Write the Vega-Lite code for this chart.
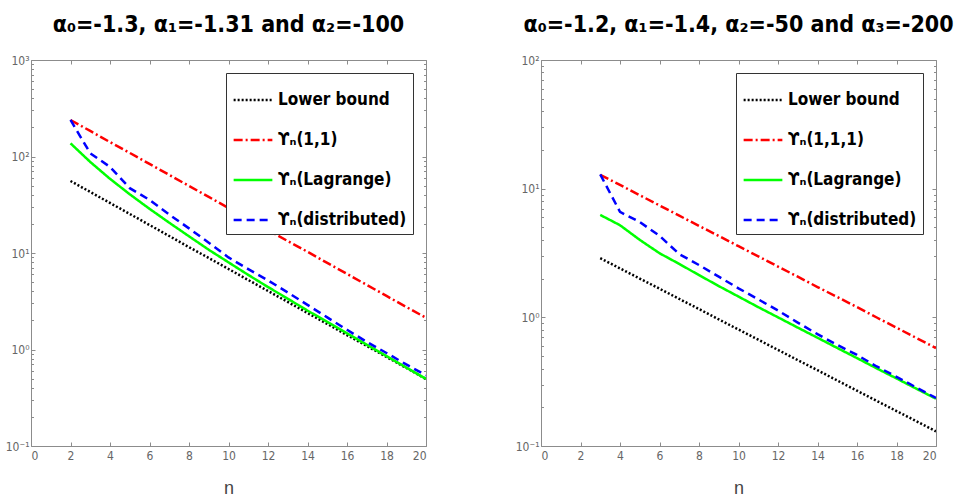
{
  "$schema": "https://vega.github.io/schema/vega-lite/v6.json",
  "background": "white",
  "padding": {"left": 3, "top": 14, "right": 5, "bottom": 0},
  "bounds": "flush",
  "spacing": 115,
  "datasets": {
    "left": [
      {"s": "Lower bound", "n": 2, "v": 55.7}, {"s": "Lower bound", "n": 3, "v": 42.9}, {"s": "Lower bound", "n": 4, "v": 33.0},
      {"s": "Lower bound", "n": 5, "v": 25.4}, {"s": "Lower bound", "n": 6, "v": 19.5}, {"s": "Lower bound", "n": 7, "v": 15.0},
      {"s": "Lower bound", "n": 8, "v": 11.5}, {"s": "Lower bound", "n": 9, "v": 8.88}, {"s": "Lower bound", "n": 10, "v": 6.83},
      {"s": "Lower bound", "n": 11, "v": 5.25}, {"s": "Lower bound", "n": 12, "v": 4.04}, {"s": "Lower bound", "n": 13, "v": 3.11},
      {"s": "Lower bound", "n": 14, "v": 2.39}, {"s": "Lower bound", "n": 15, "v": 1.84}, {"s": "Lower bound", "n": 16, "v": 1.41},
      {"s": "Lower bound", "n": 17, "v": 1.09}, {"s": "Lower bound", "n": 18, "v": 0.837}, {"s": "Lower bound", "n": 19, "v": 0.644},
      {"s": "Lower bound", "n": 20, "v": 0.495},
      {"s": "ϒₙ(1,1)", "n": 2, "v": 239}, {"s": "ϒₙ(1,1)", "n": 3, "v": 184}, {"s": "ϒₙ(1,1)", "n": 4, "v": 141},
      {"s": "ϒₙ(1,1)", "n": 5, "v": 109}, {"s": "ϒₙ(1,1)", "n": 6, "v": 83.7}, {"s": "ϒₙ(1,1)", "n": 7, "v": 64.4},
      {"s": "ϒₙ(1,1)", "n": 8, "v": 49.5}, {"s": "ϒₙ(1,1)", "n": 9, "v": 38.1}, {"s": "ϒₙ(1,1)", "n": 10, "v": 29.3},
      {"s": "ϒₙ(1,1)", "n": 11, "v": 22.5}, {"s": "ϒₙ(1,1)", "n": 12, "v": 17.3}, {"s": "ϒₙ(1,1)", "n": 13, "v": 13.3},
      {"s": "ϒₙ(1,1)", "n": 14, "v": 10.3}, {"s": "ϒₙ(1,1)", "n": 15, "v": 7.89}, {"s": "ϒₙ(1,1)", "n": 16, "v": 6.07},
      {"s": "ϒₙ(1,1)", "n": 17, "v": 4.67}, {"s": "ϒₙ(1,1)", "n": 18, "v": 3.59}, {"s": "ϒₙ(1,1)", "n": 19, "v": 2.76},
      {"s": "ϒₙ(1,1)", "n": 20, "v": 2.13},
      {"s": "ϒₙ(Lagrange)", "n": 2, "v": 137}, {"s": "ϒₙ(Lagrange)", "n": 3, "v": 87.8}, {"s": "ϒₙ(Lagrange)", "n": 4, "v": 58.7},
      {"s": "ϒₙ(Lagrange)", "n": 5, "v": 40.6}, {"s": "ϒₙ(Lagrange)", "n": 6, "v": 28.7}, {"s": "ϒₙ(Lagrange)", "n": 7, "v": 20.6},
      {"s": "ϒₙ(Lagrange)", "n": 8, "v": 14.9}, {"s": "ϒₙ(Lagrange)", "n": 9, "v": 10.8}, {"s": "ϒₙ(Lagrange)", "n": 10, "v": 8.0},
      {"s": "ϒₙ(Lagrange)", "n": 11, "v": 5.93}, {"s": "ϒₙ(Lagrange)", "n": 12, "v": 4.44}, {"s": "ϒₙ(Lagrange)", "n": 13, "v": 3.36},
      {"s": "ϒₙ(Lagrange)", "n": 14, "v": 2.53}, {"s": "ϒₙ(Lagrange)", "n": 15, "v": 1.93}, {"s": "ϒₙ(Lagrange)", "n": 16, "v": 1.47},
      {"s": "ϒₙ(Lagrange)", "n": 17, "v": 1.12}, {"s": "ϒₙ(Lagrange)", "n": 18, "v": 0.854}, {"s": "ϒₙ(Lagrange)", "n": 19, "v": 0.65},
      {"s": "ϒₙ(Lagrange)", "n": 20, "v": 0.495},
      {"s": "ϒₙ(distributed)", "n": 2, "v": 239}, {"s": "ϒₙ(distributed)", "n": 3, "v": 108}, {"s": "ϒₙ(distributed)", "n": 4, "v": 78},
      {"s": "ϒₙ(distributed)", "n": 5, "v": 47}, {"s": "ϒₙ(distributed)", "n": 6, "v": 35.5}, {"s": "ϒₙ(distributed)", "n": 7, "v": 25},
      {"s": "ϒₙ(distributed)", "n": 8, "v": 18}, {"s": "ϒₙ(distributed)", "n": 9, "v": 12.8}, {"s": "ϒₙ(distributed)", "n": 10, "v": 9.0},
      {"s": "ϒₙ(distributed)", "n": 11, "v": 6.8}, {"s": "ϒₙ(distributed)", "n": 12, "v": 5.2}, {"s": "ϒₙ(distributed)", "n": 13, "v": 3.9},
      {"s": "ϒₙ(distributed)", "n": 14, "v": 2.9}, {"s": "ϒₙ(distributed)", "n": 15, "v": 2.15}, {"s": "ϒₙ(distributed)", "n": 16, "v": 1.6},
      {"s": "ϒₙ(distributed)", "n": 17, "v": 1.2}, {"s": "ϒₙ(distributed)", "n": 18, "v": 0.92}, {"s": "ϒₙ(distributed)", "n": 19, "v": 0.7},
      {"s": "ϒₙ(distributed)", "n": 20, "v": 0.54}
    ],
    "right": [
      {"s": "Lower bound", "n": 3, "v": 2.88}, {"s": "Lower bound", "n": 4, "v": 2.4}, {"s": "Lower bound", "n": 5, "v": 2.0},
      {"s": "Lower bound", "n": 6, "v": 1.67}, {"s": "Lower bound", "n": 7, "v": 1.39}, {"s": "Lower bound", "n": 8, "v": 1.16},
      {"s": "Lower bound", "n": 9, "v": 0.964}, {"s": "Lower bound", "n": 10, "v": 0.804}, {"s": "Lower bound", "n": 11, "v": 0.67},
      {"s": "Lower bound", "n": 12, "v": 0.558}, {"s": "Lower bound", "n": 13, "v": 0.465}, {"s": "Lower bound", "n": 14, "v": 0.388},
      {"s": "Lower bound", "n": 15, "v": 0.323}, {"s": "Lower bound", "n": 16, "v": 0.269}, {"s": "Lower bound", "n": 17, "v": 0.224},
      {"s": "Lower bound", "n": 18, "v": 0.187}, {"s": "Lower bound", "n": 19, "v": 0.156}, {"s": "Lower bound", "n": 20, "v": 0.13},
      {"s": "ϒₙ(1,1,1)", "n": 3, "v": 12.8}, {"s": "ϒₙ(1,1,1)", "n": 4, "v": 10.7}, {"s": "ϒₙ(1,1,1)", "n": 5, "v": 8.89},
      {"s": "ϒₙ(1,1,1)", "n": 6, "v": 7.41}, {"s": "ϒₙ(1,1,1)", "n": 7, "v": 6.17}, {"s": "ϒₙ(1,1,1)", "n": 8, "v": 5.14},
      {"s": "ϒₙ(1,1,1)", "n": 9, "v": 4.29}, {"s": "ϒₙ(1,1,1)", "n": 10, "v": 3.57}, {"s": "ϒₙ(1,1,1)", "n": 11, "v": 2.98},
      {"s": "ϒₙ(1,1,1)", "n": 12, "v": 2.48}, {"s": "ϒₙ(1,1,1)", "n": 13, "v": 2.07}, {"s": "ϒₙ(1,1,1)", "n": 14, "v": 1.72},
      {"s": "ϒₙ(1,1,1)", "n": 15, "v": 1.44}, {"s": "ϒₙ(1,1,1)", "n": 16, "v": 1.2}, {"s": "ϒₙ(1,1,1)", "n": 17, "v": 0.997},
      {"s": "ϒₙ(1,1,1)", "n": 18, "v": 0.831}, {"s": "ϒₙ(1,1,1)", "n": 19, "v": 0.692}, {"s": "ϒₙ(1,1,1)", "n": 20, "v": 0.577},
      {"s": "ϒₙ(Lagrange)", "n": 3, "v": 6.25}, {"s": "ϒₙ(Lagrange)", "n": 4, "v": 5.2}, {"s": "ϒₙ(Lagrange)", "n": 5, "v": 4.0},
      {"s": "ϒₙ(Lagrange)", "n": 6, "v": 3.15}, {"s": "ϒₙ(Lagrange)", "n": 7, "v": 2.6}, {"s": "ϒₙ(Lagrange)", "n": 8, "v": 2.13},
      {"s": "ϒₙ(Lagrange)", "n": 9, "v": 1.75}, {"s": "ϒₙ(Lagrange)", "n": 10, "v": 1.45}, {"s": "ϒₙ(Lagrange)", "n": 11, "v": 1.2},
      {"s": "ϒₙ(Lagrange)", "n": 12, "v": 1.0}, {"s": "ϒₙ(Lagrange)", "n": 13, "v": 0.832}, {"s": "ϒₙ(Lagrange)", "n": 14, "v": 0.694},
      {"s": "ϒₙ(Lagrange)", "n": 15, "v": 0.578}, {"s": "ϒₙ(Lagrange)", "n": 16, "v": 0.482}, {"s": "ϒₙ(Lagrange)", "n": 17, "v": 0.401},
      {"s": "ϒₙ(Lagrange)", "n": 18, "v": 0.335}, {"s": "ϒₙ(Lagrange)", "n": 19, "v": 0.279}, {"s": "ϒₙ(Lagrange)", "n": 20, "v": 0.233},
      {"s": "ϒₙ(distributed)", "n": 3, "v": 12.9}, {"s": "ϒₙ(distributed)", "n": 4, "v": 6.6}, {"s": "ϒₙ(distributed)", "n": 5, "v": 5.5},
      {"s": "ϒₙ(distributed)", "n": 6, "v": 4.3}, {"s": "ϒₙ(distributed)", "n": 7, "v": 3.1}, {"s": "ϒₙ(distributed)", "n": 8, "v": 2.55},
      {"s": "ϒₙ(distributed)", "n": 9, "v": 2.07}, {"s": "ϒₙ(distributed)", "n": 10, "v": 1.68}, {"s": "ϒₙ(distributed)", "n": 11, "v": 1.38},
      {"s": "ϒₙ(distributed)", "n": 12, "v": 1.13}, {"s": "ϒₙ(distributed)", "n": 13, "v": 0.91}, {"s": "ϒₙ(distributed)", "n": 14, "v": 0.74},
      {"s": "ϒₙ(distributed)", "n": 15, "v": 0.61}, {"s": "ϒₙ(distributed)", "n": 16, "v": 0.51}, {"s": "ϒₙ(distributed)", "n": 17, "v": 0.415},
      {"s": "ϒₙ(distributed)", "n": 18, "v": 0.345}, {"s": "ϒₙ(distributed)", "n": 19, "v": 0.285}, {"s": "ϒₙ(distributed)", "n": 20, "v": 0.236}
    ]
  },
  "config": {
    "font": "Liberation Sans",
    "view": {"stroke": null},
    "axis": {
      "grid": false,
      "domainColor": "#8c8c8c",
      "tickColor": "#8c8c8c",
      "labelColor": "#666666",
      "labelFont": "DejaVu Sans Condensed, Liberation Sans, sans-serif",
      "labelFontSize": 12,
      "titleColor": "#444444",
      "titleFont": "Liberation Sans, sans-serif"
    },
    "title": {
      "font": "DejaVu Sans Condensed, Liberation Sans, sans-serif",
      "fontWeight": "bold",
      "fontSize": 23,
      "color": "#000000"
    },
    "legend": {
      "orient": "top-right",
      "offset": 13,
      "padding": 6,
      "strokeColor": "#333333",
      "fillColor": "#ffffff",
      "labelFont": "DejaVu Sans Condensed, Liberation Sans, sans-serif",
      "labelFontWeight": "bold",
      "labelFontSize": 17,
      "labelColor": "#000000",
      "labelLimit": 300,
      "labelOffset": 4,
      "symbolType": "stroke",
      "symbolSize": 1500,
      "symbolStrokeWidth": 2.5,
      "rowPadding": 11
    }
  },
  "resolve": {"scale": {"color": "independent", "strokeDash": "independent"}},
  "hconcat": [
    {
      "width": 395,
      "height": 386,
      "title": {"text": "α₀=-1.3, α₁=-1.31 and α₂=-100", "frame": "group", "anchor": "middle", "offset": 17},
      "data": {"name": "left"},
      "layer": [
        {
          "mark": {"type": "line", "strokeWidth": 2.5, "clip": true},
          "encoding": {
            "x": {
              "field": "n", "type": "quantitative",
              "scale": {"domain": [0, 20], "nice": false},
              "axis": {"values": [0, 2, 4, 6, 8, 10, 12, 14, 16, 18, 20], "tickSize": -4, "labelPadding": 8, "title": "n", "titleFontSize": 18, "titleFontWeight": "normal", "titlePadding": 18}
            },
            "y": {
              "field": "v", "type": "quantitative",
              "scale": {"type": "log", "domain": [0.1, 1000], "nice": false},
              "axis": {
                "values": [0.1, 0.2, 0.3, 0.4, 0.5, 0.6, 0.7, 0.8, 0.9, 1, 2, 3, 4, 5, 6, 7, 8, 9, 10, 20, 30, 40, 50, 60, 70, 80, 90, 100, 200, 300, 400, 500, 600, 700, 800, 900, 1000],
                "labelExpr": "datum.value == 0.1 ? '10⁻¹' : datum.value == 1 ? '10⁰' : datum.value == 10 ? '10¹' : datum.value == 100 ? '10²' : datum.value == 1000 ? '10³' : ''",
                "tickSize": {"condition": {"test": "datum.value == 0.1 || datum.value == 1 || datum.value == 10 || datum.value == 100 || datum.value == 1000", "value": -4}, "value": -2.5},
                "labelOverlap": false,
                "labelPadding": 6,
                "title": null,
                "minExtent": 28,
                "maxExtent": 28
              }
            },
            "color": {
              "field": "s", "type": "nominal",
              "scale": {"domain": ["Lower bound", "ϒₙ(1,1)", "ϒₙ(Lagrange)", "ϒₙ(distributed)"], "range": ["#000000", "#ff0000", "#00ff00", "#0000ff"]},
              "legend": {"title": null}
            },
            "strokeDash": {
              "field": "s", "type": "nominal",
              "scale": {"domain": ["Lower bound", "ϒₙ(1,1)", "ϒₙ(Lagrange)", "ϒₙ(distributed)"], "range": [[2, 2], [9, 3, 2, 3], [1, 0], [8, 5]]},
              "legend": {"title": null}
            }
          }
        },
        {
          "mark": {"type": "point", "opacity": 0},
          "encoding": {
            "x": {
              "field": "n", "type": "quantitative",
              "scale": {"domain": [0, 20], "nice": false},
              "axis": {"orient": "top", "values": [0, 2, 4, 6, 8, 10, 12, 14, 16, 18, 20], "labels": false, "tickSize": -4, "title": null, "minExtent": 0, "maxExtent": 0}
            },
            "y": {
              "field": "v", "type": "quantitative",
              "scale": {"type": "log", "domain": [0.1, 1000], "nice": false},
              "axis": {
                "orient": "right",
                "values": [0.1, 0.2, 0.3, 0.4, 0.5, 0.6, 0.7, 0.8, 0.9, 1, 2, 3, 4, 5, 6, 7, 8, 9, 10, 20, 30, 40, 50, 60, 70, 80, 90, 100, 200, 300, 400, 500, 600, 700, 800, 900, 1000],
                "labels": false,
                "tickSize": {"condition": {"test": "datum.value == 0.1 || datum.value == 1 || datum.value == 10 || datum.value == 100 || datum.value == 1000", "value": -4}, "value": -2.5},
                "title": null, "minExtent": 0, "maxExtent": 0
              }
            }
          }
        }
      ],
      "resolve": {"axis": {"x": "independent", "y": "independent"}}
    },
    {
      "width": 395,
      "height": 386,
      "title": {"text": "α₀=-1.2, α₁=-1.4, α₂=-50 and α₃=-200", "frame": "group", "anchor": "middle", "offset": 17},
      "data": {"name": "right"},
      "layer": [
        {
          "mark": {"type": "line", "strokeWidth": 2.5, "clip": true},
          "encoding": {
            "x": {
              "field": "n", "type": "quantitative",
              "scale": {"domain": [0, 20], "nice": false},
              "axis": {"values": [0, 2, 4, 6, 8, 10, 12, 14, 16, 18, 20], "tickSize": -4, "labelPadding": 8, "title": "n", "titleFontSize": 18, "titleFontWeight": "normal", "titlePadding": 18}
            },
            "y": {
              "field": "v", "type": "quantitative",
              "scale": {"type": "log", "domain": [0.1, 100], "nice": false},
              "axis": {
                "values": [0.1, 0.2, 0.3, 0.4, 0.5, 0.6, 0.7, 0.8, 0.9, 1, 2, 3, 4, 5, 6, 7, 8, 9, 10, 20, 30, 40, 50, 60, 70, 80, 90, 100],
                "labelExpr": "datum.value == 0.1 ? '10⁻¹' : datum.value == 1 ? '10⁰' : datum.value == 10 ? '10¹' : datum.value == 100 ? '10²' : ''",
                "tickSize": {"condition": {"test": "datum.value == 0.1 || datum.value == 1 || datum.value == 10 || datum.value == 100", "value": -4}, "value": -2.5},
                "labelOverlap": false,
                "labelPadding": 6,
                "title": null,
                "minExtent": 28,
                "maxExtent": 28
              }
            },
            "color": {
              "field": "s", "type": "nominal",
              "scale": {"domain": ["Lower bound", "ϒₙ(1,1,1)", "ϒₙ(Lagrange)", "ϒₙ(distributed)"], "range": ["#000000", "#ff0000", "#00ff00", "#0000ff"]},
              "legend": {"title": null}
            },
            "strokeDash": {
              "field": "s", "type": "nominal",
              "scale": {"domain": ["Lower bound", "ϒₙ(1,1,1)", "ϒₙ(Lagrange)", "ϒₙ(distributed)"], "range": [[2, 2], [9, 3, 2, 3], [1, 0], [8, 5]]},
              "legend": {"title": null}
            }
          }
        },
        {
          "mark": {"type": "point", "opacity": 0},
          "encoding": {
            "x": {
              "field": "n", "type": "quantitative",
              "scale": {"domain": [0, 20], "nice": false},
              "axis": {"orient": "top", "values": [0, 2, 4, 6, 8, 10, 12, 14, 16, 18, 20], "labels": false, "tickSize": -4, "title": null, "minExtent": 0, "maxExtent": 0}
            },
            "y": {
              "field": "v", "type": "quantitative",
              "scale": {"type": "log", "domain": [0.1, 100], "nice": false},
              "axis": {
                "orient": "right",
                "values": [0.1, 0.2, 0.3, 0.4, 0.5, 0.6, 0.7, 0.8, 0.9, 1, 2, 3, 4, 5, 6, 7, 8, 9, 10, 20, 30, 40, 50, 60, 70, 80, 90, 100],
                "labels": false,
                "tickSize": {"condition": {"test": "datum.value == 0.1 || datum.value == 1 || datum.value == 10 || datum.value == 100", "value": -4}, "value": -2.5},
                "title": null, "minExtent": 0, "maxExtent": 0
              }
            }
          }
        }
      ],
      "resolve": {"axis": {"x": "independent", "y": "independent"}}
    }
  ]
}
